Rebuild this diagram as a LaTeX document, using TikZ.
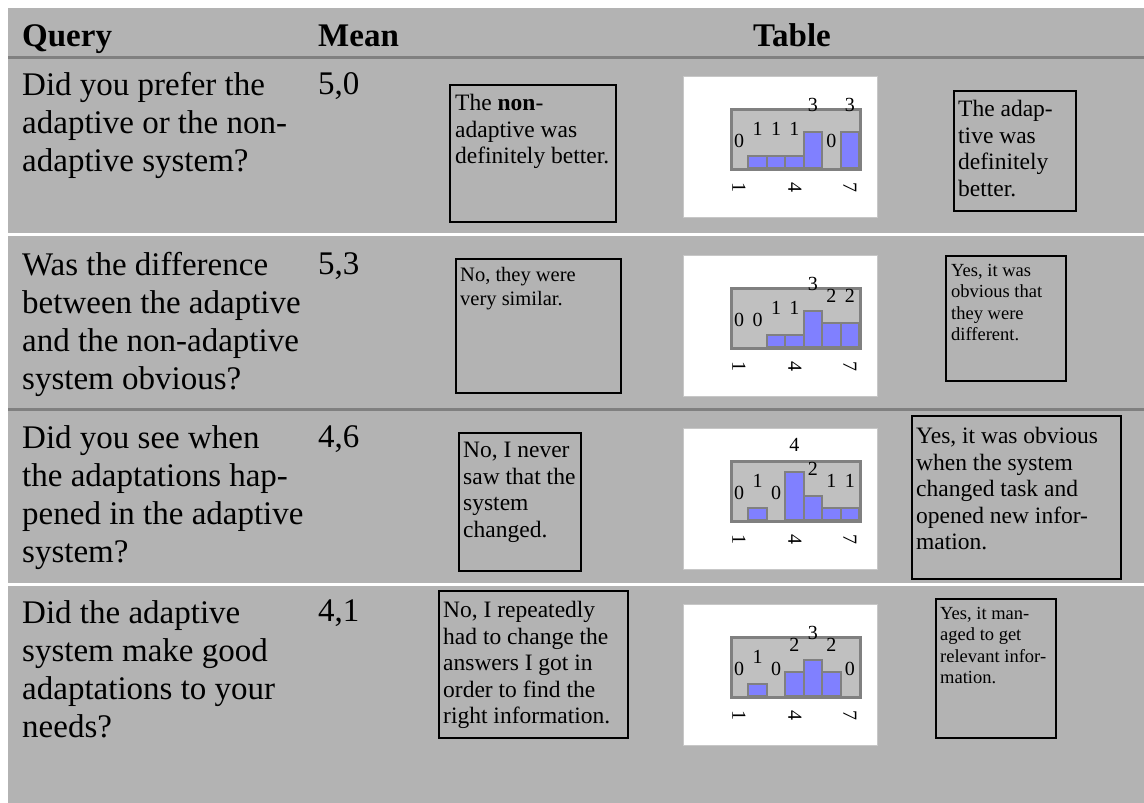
\documentclass[tikz,border=0pt]{standalone}
\usepackage{fontspec}
\setmainfont{Liberation Serif}
\usetikzlibrary{positioning}
\definecolor{cellgray}{HTML}{B3B3B3}
\definecolor{rulegray}{HTML}{808080}
\definecolor{plotgray}{HTML}{C0C0C0}
\definecolor{barblue}{HTML}{8080FF}
\tikzset{
  head/.style={anchor=base west,inner sep=0pt,font=\fontsize{33}{38}\selectfont\bfseries},
  query/.style={anchor=north west,align=left,inner sep=0pt,font=\fontsize{33}{38}\selectfont},
  mean/.style={anchor=north west,inner sep=0pt,font=\fontsize{33}{38}\selectfont},
  note/.style={draw=black,line width=2pt,anchor=north west,inner sep=0pt},
  note-t/.style={anchor=north west,align=left,inner sep=0pt,font=\fontsize{23.5}{26.5}\selectfont},
  note-s/.style={note-t,font=\fontsize{18.5}{21.3}\selectfont},
  note-m/.style={note-t,font=\fontsize{20.5}{23.6}\selectfont},
  panel/.style={draw=black!22,fill=white,line width=1pt},
  plot/.style={draw=rulegray,fill=plotgray,line width=3pt,anchor=north west,minimum width=129pt,minimum height=60pt,inner sep=0pt},
  bar/.style={draw=rulegray,fill=barblue,line width=2pt},
  count/.style={inner sep=0pt,font=\fontsize{20}{20}\selectfont},
  tick/.style={inner sep=0pt,rotate=-90,font=\fontsize{20}{20}\selectfont},
  sep-w/.style={fill=white},
  sep-d/.style={fill=rulegray},
}

\begin{document}
\begin{tikzpicture}[x=1pt,y=-1pt]

  \useasboundingbox (0,0) rectangle (1144,803);
  \fill[white] (0,0) rectangle (1144,803);
  \fill[cellgray] (8,8) rectangle (1144,803);

  % HEADER
  \node[head] (h-query) at (22,46)  {Query};
  \node[head] (h-mean)  at (318,46) {Mean};
  \node[head] (h-table) at (753,46) {Table};
  \fill[sep-d] (8,56)  rectangle (1144,59);
  \fill[sep-w] (8,233) rectangle (1144,236);
  \fill[sep-d] (8,408) rectangle (1144,411);
  \fill[sep-w] (8,583) rectangle (1144,586);

  % ROW 1: prefer
  \node[query] (q1) at (22,72)  {Did you prefer the\\adaptive or the non-\\adaptive system?};
  \node[mean]  (m1) at (318,72) {5,0};
  \node[note,minimum width=166pt,minimum height=137pt] (n1l) at (449,84) {};
  \node[note-t] (n1l-t) at (455,94) {The \textbf{non}-\\adaptive was\\definitely better.};
  \draw[panel] (683,76) rectangle (877,217);
  \node[plot] (p1) at (730,108) {};
  \foreach \v [count=\i] in {0,1,1,1,3,0,3} {
    \pgfmathsetmacro\bx{730+18.43*(\i-1)}
    \ifnum\v>0 \draw[bar] (\bx,168) rectangle ++(18.43,-12*\v); \fi
    \node[count] (c1-\i) at (\bx+9.2,141-12*\v) {\v};
  }
  \node[tick] (t1-1) at (739,187) {1};
  \node[tick] (t1-4) at (795,187) {4};
  \node[tick] (t1-7) at (850,187) {7};
  \node[note,minimum width=122pt,minimum height=120pt] (n1r) at (953,90) {};
  \node[note-t] (n1r-t) at (958,100) {The adap-\\tive was\\definitely\\better.};

  % ROW 2: difference
  \node[query] (q2) at (22,252)  {Was the difference\\between the adaptive\\and the non-adaptive\\system obvious?};
  \node[mean]  (m2) at (318,252) {5,3};
  \node[note,minimum width=165pt,minimum height=134pt] (n2l) at (455,258) {};
  \node[note-m] (n2l-t) at (460,267) {No, they were\\very similar.};
  \draw[panel] (683,255) rectangle (877,396);
  \node[plot] (p2) at (730,287) {};
  \foreach \v [count=\i] in {0,0,1,1,3,2,2} {
    \pgfmathsetmacro\bx{730+18.43*(\i-1)}
    \ifnum\v>0 \draw[bar] (\bx,347) rectangle ++(18.43,-12*\v); \fi
    \node[count] (c2-\i) at (\bx+9.2,320-12*\v) {\v};
  }
  \node[tick] (t2-1) at (739,366) {1};
  \node[tick] (t2-4) at (795,366) {4};
  \node[tick] (t2-7) at (850,366) {7};
  \node[note,minimum width=120pt,minimum height=125pt] (n2r) at (945,255) {};
  \node[note-s] (n2r-t) at (951,264) {Yes, it was\\obvious that\\they were\\different.};

  % ROW 3: see adaptations
  \node[query] (q3) at (22,425)  {Did you see when\\the adaptations hap-\\pened in the adaptive\\system?};
  \node[mean]  (m3) at (318,425) {4,6};
  \node[note,minimum width=122pt,minimum height=138pt] (n3l) at (458,432) {};
  \node[note-t] (n3l-t) at (463,442) {No, I never\\saw that the\\system\\changed.};
  \draw[panel] (683,428) rectangle (877,569);
  \node[plot] (p3) at (730,460) {};
  \foreach \v [count=\i] in {0,1,0,4,2,1,1} {
    \pgfmathsetmacro\bx{730+18.43*(\i-1)}
    \ifnum\v>0 \draw[bar] (\bx,520) rectangle ++(18.43,-12*\v); \fi
    \node[count] (c3-\i) at (\bx+9.2,493-12*\v) {\v};
  }
  \node[tick] (t3-1) at (739,539) {1};
  \node[tick] (t3-4) at (795,539) {4};
  \node[tick] (t3-7) at (850,539) {7};
  \node[note,minimum width=209pt,minimum height=163pt] (n3r) at (911,415) {};
  \node[note-t] (n3r-t) at (916,427) {Yes, it was obvious\\when the system\\changed task and\\opened new infor-\\mation.};

  % ROW 4: good adaptations
  \node[query] (q4) at (22,600)  {Did the adaptive\\system make good\\adaptations to your\\needs?};
  \node[mean]  (m4) at (318,600) {4,1};
  \node[note,minimum width=189pt,minimum height=147pt] (n4l) at (438,590) {};
  \node[note-t] (n4l-t) at (443,601) {No, I repeatedly\\had to change the\\answers I got in\\order to find the\\right information.};
  \draw[panel] (683,604) rectangle (877,745);
  \node[plot] (p4) at (730,636) {};
  \foreach \v [count=\i] in {0,1,0,2,3,2,0} {
    \pgfmathsetmacro\bx{730+18.43*(\i-1)}
    \ifnum\v>0 \draw[bar] (\bx,696) rectangle ++(18.43,-12*\v); \fi
    \node[count] (c4-\i) at (\bx+9.2,669-12*\v) {\v};
  }
  \node[tick] (t4-1) at (739,715) {1};
  \node[tick] (t4-4) at (795,715) {4};
  \node[tick] (t4-7) at (850,715) {7};
  \node[note,minimum width=120pt,minimum height=139pt] (n4r) at (935,598) {};
  \node[note-s] (n4r-t) at (940,607) {Yes, it man-\\aged to get\\relevant infor-\\mation.};

\end{tikzpicture}
\end{document}
